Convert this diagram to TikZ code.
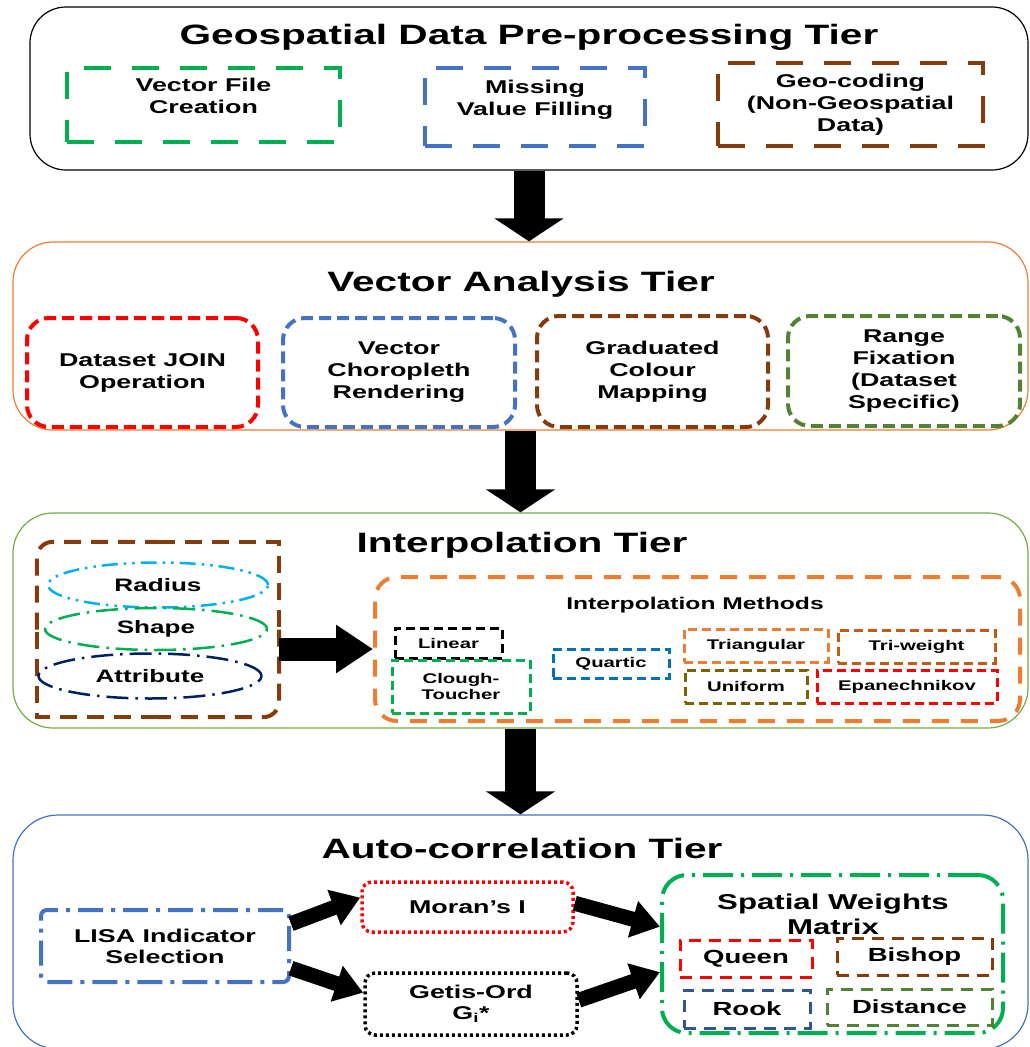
\documentclass[tikz,border=0pt]{standalone}
\usepackage{fontspec}
\setmainfont[FakeStretch=1.45]{Liberation Sans}
\usepackage{tikz}
\usetikzlibrary{arrows.meta,shapes.geometric}

\definecolor{tgreen}{HTML}{00B050}
\definecolor{tblue}{HTML}{4472C4}
\definecolor{tbrown}{HTML}{843C0C}
\definecolor{torange}{HTML}{ED7D31}
\definecolor{tolive}{HTML}{548235}
\definecolor{tleaf}{HTML}{70AD47}
\definecolor{tcyan}{HTML}{00B0F0}
\definecolor{tnavy}{HTML}{002060}
\definecolor{tsea}{HTML}{0070C0}
\definecolor{trust}{HTML}{C55A11}
\definecolor{tmud}{HTML}{7F6000}
\definecolor{trook}{HTML}{2F5597}

\begin{document}
\begin{tikzpicture}[x=1pt, y=-1pt,
    wh/.style 2 args = {minimum width=#1pt, minimum height=#2pt, inner sep=0pt},
    tier/.style = {draw, line width=1.2pt, rounded corners=36pt},
    tiertitle/.style = {font = {\fontsize{28}{32}\selectfont\bfseries}},
    topbox/.style = {draw, line width=4pt, dash pattern=on 27pt off 21pt, align=center, font = {\fontsize{18.5}{22}\selectfont\bfseries}},
    vecbox/.style = {draw, line width=4pt, dash pattern=on 12pt off 6pt, rounded corners=22pt, align=center, font = {\fontsize{18.5}{22}\selectfont\bfseries}},
    ring/.style = {ellipse, draw, line width=2.5pt, font = {\fontsize{18}{22}\selectfont\bfseries}},
    paramline/.style = {tbrown, line width=4pt, dash pattern=on 17pt off 10pt},
    methbox/.style = {draw, line width=3pt, dash pattern=on 9pt off 5pt, align=center, font = {\fontsize{14}{16}\selectfont\bfseries}},
    corrbox/.style = {draw, line width=3.5pt, dash pattern=on 3pt off 3pt, rounded corners=10pt, align=center, font = {\fontsize{18.5}{21}\selectfont\bfseries}},
    wbox/.style = {draw, line width=3pt, dash pattern=on 12pt off 8pt, font = {\fontsize{19}{22}\selectfont\bfseries}},
    bigarrow/.style = {line width=31pt, -{Triangle[length=23pt 0 0, width=68pt 0 0]}},
    sidearrow/.style = {line width=23pt, -{Triangle[length=37pt 0 0, width=46pt 0 0]}},
    thinarrow/.style = {line width=15pt, -{Triangle[length=28pt 0 0, width=36pt 0 0]}}
  ]
  \useasboundingbox (0, 0) rectangle (1029, 1047);

  \node[tier, wh={998}{163}] (tierA) at (529, 88.5) {};
  \node[tiertitle] (titleA) at (529, 37) {Geospatial Data Pre-processing Tier};
  \node[topbox, tgreen, text=black, text depth=18pt, wh={273}{74}] (vecfile) at (203.5, 105) {Vector File\\Creation};
  \node[topbox, tblue, text=black, text depth=18pt, wh={220}{78}] (missing) at (535, 107) {Missing\\Value Filling};
  \node[topbox, tbrown, text=black, wh={265}{83}] (geocode) at (850.5, 104.5) {Geo-coding\\(Non-Geospatial\\Data)};

  \node[tier, torange, rounded corners=40pt, wh={1015}{188}] (tierB) at (520.5, 336) {};
  \node[tiertitle] (titleB) at (521, 284) {Vector Analysis Tier};
  \node[vecbox, red, text=black, wh={231}{109}] (join) at (142.5, 372.5) {Dataset JOIN\\Operation};
  \node[vecbox, tblue, text=black, wh={232}{109}] (choro) at (399, 372.5) {Vector\\Choropleth\\Rendering};
  \node[vecbox, tbrown, text=black, wh={231}{111}] (grad) at (652.5, 371.5) {Graduated\\Colour\\Mapping};
  \node[vecbox, tolive, text=black, wh={232}{110}] (range) at (904, 371) {Range\\Fixation\\(Dataset\\Specific)};

  \node[tier, tleaf, rounded corners=40pt, wh={1015}{215}] (tierC) at (520.5, 620.5) {};
  \node[tiertitle] (titleC) at (522, 545) {Interpolation Tier};
  \node[wh={242}{175}] (params) at (158, 629.5) {};
  \draw[paramline, rounded corners=16pt] (params.west) -- (params.north west) -- (params.north);
  \draw[paramline] (params.north) -- (params.north east) -- (params.east);
  \draw[paramline, rounded corners=16pt] (params.east) -- (params.south east) -- (params.south);
  \draw[paramline] (params.south) -- (params.south west) -- (params.west);
  \node[ring, tcyan, text=black, dash pattern=on 16pt off 6pt on 2.5pt off 6pt on 2.5pt off 6pt, wh={220}{45}] (radius) at (158, 585) {Radius};
  \node[ring, tgreen, text=black, dash pattern=on 22pt off 7pt on 2.5pt off 7pt, wh={222}{42}] (shape) at (156, 629) {Shape};
  \node[ring, tnavy, text=black, dash pattern=on 22pt off 7pt on 2.5pt off 7pt, wh={223}{45}] (attr) at (150, 676) {Attribute};
  \node[draw, torange, line width=4pt, dash pattern=on 17pt off 12pt, rounded corners=22pt, wh={645}{144}] (methods) at (697.5, 649) {};
  \node[font = {\fontsize{17}{21}\selectfont\bfseries}] (methtitle) at (695, 605) {Interpolation Methods};
  \node[methbox, black, wh={107}{30}] (linear) at (448.5, 643) {Linear};
  \node[methbox, tgreen, text=black, wh={138}{53}] (clough) at (461, 686.5) {Clough-\\Toucher};
  \node[methbox, tsea, text=black, wh={116}{29}] (quartic) at (611, 663.5) {Quartic};
  \node[methbox, torange, text=black, wh={144}{33}] (triang) at (756, 645.5) {Triangular};
  \node[methbox, trust, text=black, wh={157}{33}] (triweight) at (916.5, 646.5) {Tri-weight};
  \node[methbox, tmud, text=black, wh={122}{33}] (uniform) at (746, 686.5) {Uniform};
  \node[methbox, red, text=black, wh={180}{33}] (epan) at (907, 686.5) {Epanechnikov};

  \node[tier, tblue, rounded corners=45pt, wh={1015}{234}] (tierD) at (520.5, 932) {};
  \node[tiertitle] (titleD) at (522, 848) {Auto-correlation Tier};
  \node[draw, tblue, text=black, line width=4pt, dash pattern=on 25pt off 8pt on 4pt off 8pt, rounded corners=6pt, align=center, font = {\fontsize{18.5}{21}\selectfont\bfseries}, wh={248}{72}] (lisa) at (165, 946) {LISA Indicator\\Selection};
  \node[corrbox, red, text=black, wh={211}{50}] (moran) at (467.5, 907) {Moran’s I};
  \node[corrbox, black, wh={212}{62}] (getis) at (471, 1004) {Getis-Ord\\G\textsubscript{i}*};
  \node[draw, tgreen, line width=4pt, dash pattern=on 30pt off 8pt on 3pt off 8pt, rounded corners=25pt, wh={341}{158}] (swm) at (832.5, 954) {};
  \node[align=center, font = {\fontsize{21.5}{25}\selectfont\bfseries}] (swmtitle) at (833, 914) {Spatial Weights\\Matrix};
  \node[wbox, red, text=black, wh={132}{37}] (queen) at (746, 958.5) {Queen};
  \node[wbox, tbrown, text=black, wh={155}{37}] (bishop) at (914.5, 956.5) {Bishop};
  \node[wbox, trook, text=black, wh={126}{38}] (rook) at (747, 1009) {Rook};
  \node[wbox, tolive, text=black, wh={165}{36}] (distance) at (909.5, 1007) {Distance};

  \draw[bigarrow] (tierA.south) -- (tierA.south |- tierB.north);
  \draw[bigarrow] (tierB.south) -- (tierB.south |- tierC.north);
  \draw[bigarrow] (tierC.south) -- (tierC.south |- tierD.north);
  \draw[sidearrow] (params.east |- methods.west) -- (methods.west);
  \draw[thinarrow] (lisa.10) -- (moran.175);
  \draw[thinarrow] (lisa.-10) -- (getis.174);
  \draw[thinarrow] (moran.2) -- (swm.171);
  \draw[thinarrow] (getis.2) -- (swm.186);
\end{tikzpicture}
\end{document}
